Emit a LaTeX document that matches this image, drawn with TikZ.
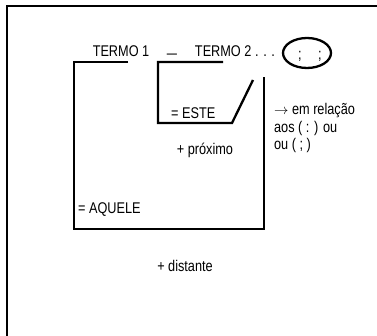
\documentclass[tikz,border=0pt]{standalone}
\usepackage{fontspec}
\setmainfont{Liberation Sans}[FakeStretch=0.82]
\usetikzlibrary{positioning,shapes.geometric}

\begin{document}
\begin{tikzpicture}[x=1pt,y=-1pt,line width=2.3pt,
    txt/.style={inner sep=0pt,font=\fontsize{15.5}{17}\selectfont},
    node distance=17.5pt]
  \useasboundingbox (0,0) rectangle (377,336);

  % frame
  \draw (377,6) -- (7,6) -- (7,336);

  % terms
  \node[txt, anchor=base]      (t1)   at (121,57)  {TERMO 1};
  \node[txt, anchor=base]      (dash) at (172,59)  {\scalebox{0.8}[1]{—}};
  \node[txt, anchor=base]      (t2)   at (235,57)  {TERMO 2 . . .};
  \node[draw, ellipse, minimum width=48pt, minimum height=30pt,
        inner sep=0pt]         (pont) at (307,53)  {};
  \node[txt, anchor=base]      (sc1)  at (300,60)  {;};
  \node[txt, anchor=base]      (sc2)  at (320,60)  {;};

  % labels
  \node[txt, anchor=base west] (este) at (170,119) {= ESTE};
  \node[txt, anchor=base]      (prox) at (205,155) {+ próximo};
  \node[txt, anchor=base west] (aqu)  at (77,214)  {= AQUELE};
  \node[txt, anchor=base]      (dist) at (185,272) {+ distante};

  \node[txt, anchor=base west] (rel1) at (273,115) {$\rightarrow$ em relação};
  \node[txt, below=of rel1.base west, anchor=base west] (rel2) {aos ( : ) ou};
  \node[txt, below=of rel2.base west, anchor=base west] (rel3) {ou ( ; )};

  % brackets
  \coordinate (a1) at (74,62);
  \coordinate (a2) at (128,62);
  \coordinate (a3) at (74,229);
  \coordinate (a4) at (264,229);
  \coordinate (a5) at (264,77);
  \draw (a2) -- (a1) -- (a3) -- (a4) -- (a5);

  \coordinate (e1) at (158,62);
  \coordinate (e2) at (223,62);
  \coordinate (e3) at (158,123);
  \coordinate (e4) at (232,123);
  \coordinate (e5) at (253,80);
  \draw (e2) -- (e1) -- (e3) -- (e4) -- (e5);
\end{tikzpicture}
\end{document}
